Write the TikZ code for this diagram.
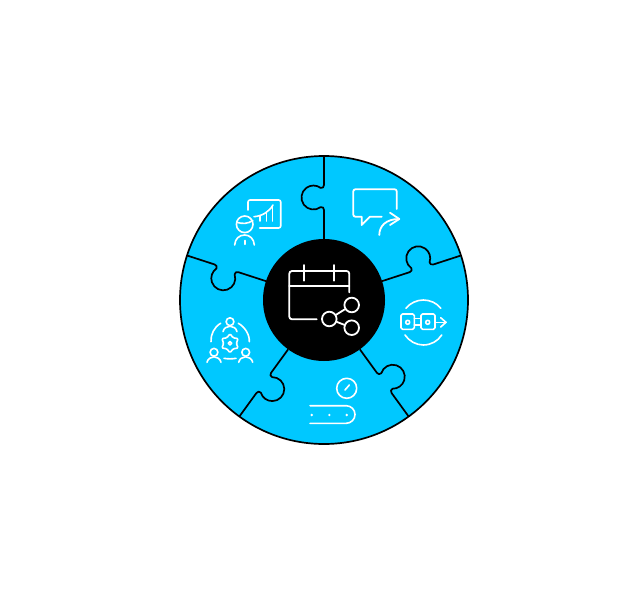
\documentclass[tikz,border=0pt]{standalone}
\usepackage{xcolor}
\usepackage{tikz}
\definecolor{puzzleblue}{RGB}{0,200,255}
\tikzstyle{seam} = [draw,black,line width=1.7pt,line join=round]
\tikzstyle{icon} = [draw,white,line width=1.8pt,line cap=round,line join=round]
\tikzstyle{thinicon} = [draw,white,line width=1.6pt,line cap=round,line join=round]
\begin{document}
\begin{tikzpicture}[x=1pt,y=-1pt]
 \useasboundingbox (0,0) rectangle (636,588);

 \def\cx{324};
 \def\cy{300};

 %Wheel
 \fill[puzzleblue] (\cx,\cy) circle[radius=144];

 %Seams
 \foreach \ang in {90,18,-54,-126,162}
 {
  \begin{scope}[shift={(\cx,\cy)},rotate=\ang,y=1pt]
   \path[seam] (61,0) -- (90,0) .. controls (92,0) and (93.4,1.4) .. (92.9,3.3)
      arc[start angle=217,end angle=-37,radius=12]
      .. controls (111.6,1.4) and (113,0) .. (115,0) -- (144,0);
  \end{scope}
 }

 \draw[seam] (\cx,\cy) circle[radius=144];
 \fill[black] (\cx,\cy) circle[radius=61];

 %Calendar
 \path[icon] (316.7,319.3) -- (292,319.3) arc[start angle=90,end angle=180,radius=2.7]
    -- (289.3,273.7) arc[start angle=180,end angle=270,radius=2.7]
    -- (346.6,271) arc[start angle=270,end angle=360,radius=2.7] -- (349.3,292.3);
 \foreach \xa/\ya/\xb/\yb in {289.3/286/349.3/286, 304.3/265/304.3/280.7, 334.3/265/334.3/280.7}
    \path[icon] (\xa,\ya) -- (\xb,\yb);

 %Share
 \foreach \x/\y/\name in {329.3/319/sa, 351.7/305/sb, 351.7/327.7/sc}
    \node[circle,draw=white,line width=1.8pt,minimum size=14.6pt,inner sep=0pt] (\name) at (\x,\y) {};
 \foreach \source/\dest in {sa/sb, sa/sc}
    \path[icon] (\source) -- (\dest);

 %Presenter
 \path[thinicon] (248,210) -- (248,202) arc[start angle=180,end angle=270,radius=2]
    -- (278.7,200) arc[start angle=270,end angle=360,radius=2]
    -- (280.7,226) arc[start angle=0,end angle=90,radius=2] -- (259.7,228);
 \path[thinicon] (254,216.7) .. controls (262,216) and (269,212) .. (273,205);
 \foreach \x/\y in {259.7/215.7, 266.3/212.3, 272.3/206.7}
    \path[thinicon] (\x,\y) -- (\x,221);
 \path[thinicon] (244.7,224.3) circle[radius=8.3];
 \path[thinicon] (236.8,222.3) .. controls (242,224) and (248,224) .. (252.8,220.5);
 \path[thinicon] (234.7,245) .. controls (235,239) and (239,235) .. (244.7,235)
    .. controls (250,235) and (254,239) .. (254.3,245);
 \path[thinicon] (244.7,240.5) -- (244.7,244.3);

 %Bubble
 \path[icon] (396.7,209) -- (396.7,191.3) arc[start angle=0,end angle=-90,radius=2]
    -- (355.3,189.3) arc[start angle=270,end angle=180,radius=2]
    -- (353.3,214.7) arc[start angle=180,end angle=90,radius=2]
    -- (361.7,216.7) -- (361.7,225) -- (370,216.7) -- (381.7,216.7);
 \path[icon] (379.3,235) .. controls (379.3,226) and (386,219) .. (399,219);
 \path[icon] (390,212.7) -- (399.3,219) -- (390,225);

 %Flow
 \foreach \xa/\xb/\xc in {401/414.3/407.7, 421/435/427.7}
 {
    \path[thinicon,rounded corners=1.5pt] (\xa,314) rectangle (\xb,329.3);
    \path[thinicon] (\xc,322.3) circle[radius=2];
 }
 \foreach \y in {318.3,325}
    \path[thinicon] (414.3,\y) -- (421,\y);
 \path[thinicon] (435,322.3) -- (446,322.3);
 \path[thinicon] (440.7,317.7) -- (446,322.3) -- (440.7,327);
 \path[thinicon] (406,308.3) .. controls (410,303) and (417,300) .. (423.3,300)
    .. controls (430,300) and (437,303) .. (440.7,308.3);
 \path[thinicon] (405,335) .. controls (409,341) and (416,345) .. (423.3,345)
    .. controls (431,345) and (438,341) .. (441.7,335);

 %Conveyor
 \path[thinicon] (346.7,388.3) circle[radius=10];
 \path[thinicon] (345,390) -- (349.3,385);
 \path[thinicon] (310,405.7) -- (346.2,405.7) arc[start angle=-90,end angle=90,radius=8.8] -- (310,423.3);
 \foreach \x in {311.7,329.3,346.7}
    \fill[white] (\x,415) circle[radius=1.3];

 %Team
 \foreach \x/\y in {230/321.7, 214/352.3, 245.7/352.3}
 {
    \path[thinicon] (\x,\y) circle[radius=3.9];
    \path[thinicon] (\x-7,\y+10) .. controls (\x-6.3,\y+6.5) and (\x-3,\y+4.5) .. (\x,\y+4.5)
       .. controls (\x+3,\y+4.5) and (\x+6.3,\y+6.5) .. (\x+7,\y+10);
 }
 \path[thinicon] (220.7,323.3) .. controls (214,327) and (210.5,335) .. (211,341.7);
 \path[thinicon] (238.3,323.3) .. controls (245,327) and (249.8,335) .. (249.3,341.7);
 \path[thinicon] (224,358.3) .. controls (227,359) and (233,359) .. (236,358.3);
 \path[thinicon] (230,343.3) circle[radius=1.8];
 \path[thinicon,rounded corners=1.2pt] (230,333.8) -- (233.15,337.84) -- (238.2,338.55) -- (236.3,343.3)
    -- (238.2,348.05) -- (233.15,348.76) -- (230,352.8) -- (226.85,348.76) -- (221.8,348.05)
    -- (223.7,343.3) -- (221.8,338.55) -- (226.85,337.84) -- cycle;

\end{tikzpicture}
\end{document}
